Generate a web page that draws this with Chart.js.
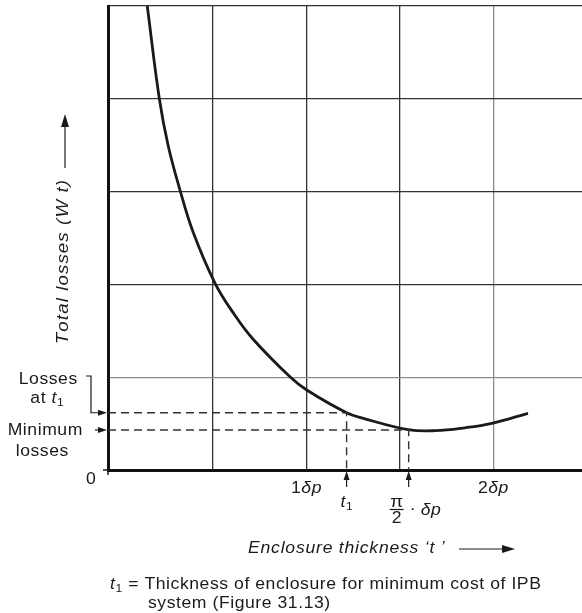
<!DOCTYPE html>
<html lang="en">
<head>
    <meta charset="UTF-8">
    <title>Total losses vs enclosure thickness</title>
    <script src="https://cdn.jsdelivr.net/npm/chart.js"></script>
    <style>
        body { margin: 0; background: #fff; }
    </style>
</head>
<body>
    <canvas id="lossChart" width="582" height="613"></canvas>

    <script>
        // curve (x in units of δp, y in grid squares)
        var curveX = [0.150, 0.214, 0.261, 0.325, 0.395, 0.512, 0.614, 0.715, 0.913, 1.003, 1.216, 1.305, 1.544, 1.689, 1.849, 1.993, 2.186];
        var curveY = [5.0, 4.009, 3.502, 3.017, 2.565, 2.015, 1.681, 1.412, 1.005, 0.862, 0.617, 0.557, 0.436, 0.424, 0.455, 0.503, 0.611];

        // marked points
        var t1 = 1.216, lossAtT1 = 0.617;
        var tMin = 1.548, lossMin = 0.431;

        // grid / ticks
        var xGrid = [0.5, 1, 1.5, 2];
        var xTickLabels = [1, 2];          // shown as "1δp", "2δp"
        var yGrid = [1, 2, 3, 4, 5];
        var xMin = -0.06, xMax = 2.475, yMin = 0, yMax = 5;

        var FONT = '"Liberation Sans", Arial, sans-serif';
        var FS = 16, LS = 0.5, SX = 1.1;   // the scanned lettering is a bit wide

        function setFont(ctx, p) {
            ctx.font = (p.i ? 'italic ' : '') + (p.s || FS) + 'px ' + FONT;
        }

        function drawParts(ctx, parts, x, y, align, ls) {
            if (ls === undefined) ls = LS;
            var total = 0;
            parts.forEach(function(p) {
                setFont(ctx, p);
                p.cw = p.t.split('').map(function(ch) { return ctx.measureText(ch).width; });
                p.cw.forEach(function(w) { total += w + ls; });
            });
            total -= ls;
            var cx = 0;
            if (align === 'center') cx = -total / 2;
            if (align === 'right') cx = -total;
            ctx.save();
            ctx.translate(x, y);
            ctx.scale(SX, 1);
            ctx.textAlign = 'left';
            ctx.textBaseline = 'middle';
            parts.forEach(function(p) {
                setFont(ctx, p);
                p.t.split('').forEach(function(ch, k) {
                    ctx.fillText(ch, cx, p.dy || 0);
                    cx += p.cw[k] + ls;
                });
            });
            ctx.restore();
        }

        function arrowHead(ctx, tx, ty, dir, len, half) {
            ctx.beginPath();
            if (dir === 'up') {
                ctx.moveTo(tx, ty);
                ctx.lineTo(tx - half, ty + len);
                ctx.lineTo(tx + half, ty + len);
            } else {
                ctx.moveTo(tx, ty);
                ctx.lineTo(tx - len, ty - half);
                ctx.lineTo(tx - len, ty + half);
            }
            ctx.closePath();
            ctx.fill();
        }

        function line(ctx, x1, y1, x2, y2) {
            ctx.beginPath();
            ctx.moveTo(x1, y1);
            ctx.lineTo(x2, y2);
            ctx.stroke();
        }

        var extras = {
            id: 'extras',
            afterDraw: function(chart) {
                var ctx = chart.ctx;
                var xs = chart.scales.x, ys = chart.scales.y;
                var left = chart.chartArea.left, bottom = chart.chartArea.bottom;
                ctx.save();
                ctx.fillStyle = '#1a1a1a';
                ctx.strokeStyle = '#1a1a1a';

                // little overshoot of the axes at the origin
                ctx.lineWidth = 1.5;
                line(ctx, left - 5, bottom, left, bottom);
                line(ctx, left, bottom, left, bottom + 5);

                // left labels
                drawParts(ctx, [{t: 'Losses'}], 48, 380, 'center');
                drawParts(ctx, [{t: 'at '}, {t: 't', i: 1}, {t: '1', s: 11, dy: 4}], 47, 399, 'center');
                drawParts(ctx, [{t: 'Minimum'}], 45, 431, 'center');
                drawParts(ctx, [{t: 'losses'}], 42, 452, 'center');
                drawParts(ctx, [{t: '0'}], 91, 480, 'center');

                // bracket + arrows to the y axis
                var yT1 = ys.getPixelForValue(lossAtT1);
                var yMinL = ys.getPixelForValue(lossMin);
                ctx.lineWidth = 1.2;
                ctx.beginPath();
                ctx.moveTo(86, 376);
                ctx.lineTo(91, 376);
                ctx.lineTo(91, yT1);
                ctx.lineTo(100, yT1);
                ctx.stroke();
                arrowHead(ctx, left - 1, yT1, 'right', 9, 3);
                line(ctx, 95, yMinL, 100, yMinL);
                arrowHead(ctx, left - 1, yMinL, 'right', 9, 3);

                // arrows under the x axis
                [t1, tMin].forEach(function(v) {
                    var px = xs.getPixelForValue(v);
                    line(ctx, px, bottom + 8, px, bottom + 17);
                    arrowHead(ctx, px, bottom + 1, 'up', 9, 3);
                });

                // x tick labels
                xTickLabels.forEach(function(v) {
                    drawParts(ctx, [{t: String(v)}, {t: 'δp', i: 1}], xs.getPixelForValue(v), 489, 'center');
                });
                drawParts(ctx, [{t: 't', i: 1}, {t: '1', s: 11, dy: 4}], xs.getPixelForValue(t1), 503, 'center');

                // π/2 · δp
                var pm = xs.getPixelForValue(tMin);
                drawParts(ctx, [{t: 'π', s: 17}], pm - 12, 502, 'center');
                ctx.lineWidth = 1.2;
                line(ctx, pm - 19, 509.5, pm - 5, 509.5);
                drawParts(ctx, [{t: '2'}], pm - 12, 519, 'center');
                drawParts(ctx, [{t: '·'}], pm + 4, 510, 'center');
                drawParts(ctx, [{t: 'δp', i: 1}], pm + 12, 511, 'left');

                // y axis title with arrow
                ctx.save();
                ctx.translate(63, 180);
                ctx.rotate(-Math.PI / 2);
                drawParts(ctx, [{t: 'Total losses (W t)', i: 1, s: 17}], 0, 0, 'right', 1.0);
                ctx.restore();
                ctx.lineWidth = 1.2;
                line(ctx, 65, 168, 65, 124);
                arrowHead(ctx, 65, 114, 'up', 13, 4);

                // x axis title with arrow
                drawParts(ctx, [{t: 'Enclosure thickness ‘', i: 1}, {t: 't', i: 1}, {t: ' ’', i: 1}], 248, 549, 'left', 0.7);
                line(ctx, 459, 549, 505, 549);
                arrowHead(ctx, 515, 549, 'right', 13, 4);

                // footnote
                drawParts(ctx, [{t: 't', i: 1}, {t: '1', s: 11, dy: 4}, {t: ' = Thickness of enclosure for minimum cost of IPB'}], 110, 585, 'left');
                drawParts(ctx, [{t: 'system (Figure 31.13)'}], 148, 604, 'left');

                ctx.restore();
            }
        };

        var curvePts = curveX.map(function(x, i) { return {x: x, y: curveY[i]}; });
        var dashT1 = [{x: xMin, y: lossAtT1}, {x: t1, y: lossAtT1}, {x: t1, y: 0}];
        var dashMin = [{x: xMin, y: lossMin}, {x: tMin, y: lossMin}, {x: tMin, y: 0}];

        function gridColor(light) {
            return function(c) {
                return light.indexOf(c.tick.value) >= 0 ? '#8c8c8c' : '#333';
            };
        }

        var lossChart = new Chart(document.getElementById('lossChart').getContext('2d'), {
            type: 'scatter',
            data: {
                datasets: [{
                    data: dashT1,
                    showLine: true,
                    borderColor: '#333',
                    borderWidth: 1.4,
                    borderDash: [8, 5],
                    pointRadius: 0,
                    tension: 0
                }, {
                    data: dashMin,
                    showLine: true,
                    borderColor: '#333',
                    borderWidth: 1.4,
                    borderDash: [8, 5],
                    pointRadius: 0,
                    tension: 0
                }, {
                    data: curvePts,
                    showLine: true,
                    borderColor: '#1a1a1a',
                    borderWidth: 2.8,
                    pointRadius: 0,
                    tension: 0.4
                }]
            },
            options: {
                responsive: false,
                animation: false,
                layout: { padding: { top: 6, right: 0, left: 0, bottom: 0 } },
                plugins: {
                    legend: { display: false },
                    tooltip: { enabled: false }
                },
                scales: {
                    x: {
                        type: 'linear',
                        min: xMin,
                        max: xMax,
                        afterBuildTicks: function(s) { s.ticks = xGrid.map(function(v) { return {value: v}; }); },
                        afterFit: function(s) { s.height = 613 - 470; },
                        ticks: { display: false },
                        grid: { drawTicks: false, lineWidth: 1.3, color: gridColor([2]) },
                        border: { color: '#111', width: 3 }
                    },
                    y: {
                        min: yMin,
                        max: yMax,
                        afterBuildTicks: function(s) { s.ticks = yGrid.map(function(v) { return {value: v}; }); },
                        afterFit: function(s) { s.width = 108; },
                        ticks: { display: false },
                        grid: { drawTicks: false, lineWidth: 1.3, color: gridColor([1]) },
                        border: { color: '#111', width: 3 }
                    }
                }
            },
            plugins: [extras]
        });
    </script>
</body>
</html>
